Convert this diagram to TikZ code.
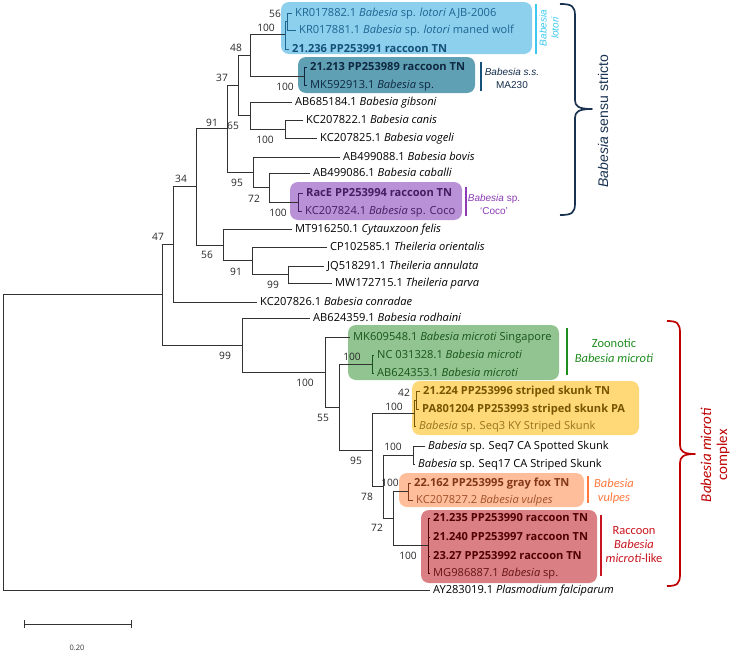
\documentclass[tikz,border=0pt]{standalone}
\usepackage{fontspec}
\setmainfont{Open Sans}
\newfontfamily\carl{Carlito}
\newfontfamily\arl{Liberation Sans}
\definecolor{treec}{RGB}{50,50,50}
\definecolor{lotbox}{RGB}{140,208,238}
\definecolor{lotbar}{RGB}{60,200,240}
\definecolor{lottxt}{RGB}{30,100,145}
\definecolor{lottxtb}{RGB}{20,80,120}
\definecolor{mabox}{RGB}{95,160,180}
\definecolor{mabar}{RGB}{20,80,120}
\definecolor{malab}{RGB}{20,45,75}
\definecolor{matxt}{RGB}{15,40,65}
\definecolor{cocobox}{RGB}{185,145,215}
\definecolor{cocobar}{RGB}{140,60,180}
\definecolor{cocotxt}{RGB}{70,30,95}
\definecolor{grnbox}{RGB}{145,196,145}
\definecolor{grnbar}{RGB}{30,140,30}
\definecolor{grntxt}{RGB}{25,85,25}
\definecolor{yelbox}{RGB}{255,217,120}
\definecolor{yeltxtb}{RGB}{120,85,0}
\definecolor{yeltxt}{RGB}{150,115,30}
\definecolor{orgbox}{RGB}{255,190,155}
\definecolor{orgbar}{RGB}{255,120,60}
\definecolor{orgtxtb}{RGB}{130,55,25}
\definecolor{orgtxt}{RGB}{160,80,40}
\definecolor{redbox}{RGB}{218,128,132}
\definecolor{redbar}{RGB}{200,20,30}
\definecolor{redtxtb}{RGB}{80,0,0}
\definecolor{redtxt}{RGB}{100,20,20}
\definecolor{ssbrace}{RGB}{25,50,80}
\definecolor{mcbrace}{RGB}{190,0,0}
\begin{document}
\begin{tikzpicture}[x=1pt,y=-1pt,
  br/.style={draw=treec,line width=0.95pt},
  leaf/.style={anchor=west,inner xsep=3pt,inner ysep=0pt,text height=0.72em,text depth=0pt,font=\fontsize{11.1}{12}\selectfont,text=black},
  bs/.style={inner sep=0pt,font=\fontsize{10.2}{11}\selectfont,text=black!85},
  clbox/.style={rounded corners=8pt},
  clbar/.style={line width=1.6pt},
  brc/.style={line width=1.7pt,line join=round}]
\useasboundingbox (0,0) rectangle (733,653);
% clade boxes
\fill[clbox,lotbox] (281,2) rectangle (532,54);
\fill[clbox,mabox] (298,57) rectangle (475,93);
\fill[clbox,cocobox] (290,182) rectangle (462,220);
\fill[clbox,grnbox] (348,325) rectangle (559,380);
\fill[clbox,yelbox] (412,381) rectangle (639,435);
\fill[clbox,orgbox] (399,473) rectangle (584,507);
\fill[clbox,redbox] (421,510) rectangle (597,583);
% internal nodes
\coordinate (root) at (3,442);
\coordinate (nN) at (162,294.5);
\coordinate (nM) at (173,244);
\coordinate (nI) at (196,186.75);
\coordinate (nC) at (227,128.5);
\coordinate (nB) at (238,85);
\coordinate (nA) at (250,55);
\coordinate (nLot) at (285,34);
\coordinate (n56) at (287,21.5);
\coordinate (nMA) at (304,76);
\coordinate (nD) at (250,115.5);
\coordinate (nE) at (285,129);
\coordinate (nF) at (253,172);
\coordinate (nG) at (269,187.5);
\coordinate (nH) at (298,202);
\coordinate (nJ) at (223,245);
\coordinate (nK) at (252,260.75);
\coordinate (nL) at (288,274.5);
\coordinate (nO) at (242,345);
\coordinate (nP) at (325,372);
\coordinate (nQ) at (339,407);
\coordinate (nR) at (372,364);
\coordinate (nS) at (372,450);
\coordinate (nT) at (414,413);
\coordinate (n42) at (416,400);
\coordinate (nU) at (383,486.75);
\coordinate (nV) at (413,455);
\coordinate (nY) at (393,518.5);
\coordinate (nW) at (408,491.5);
\coordinate (nX) at (428,545.5);
% leaves
\node[leaf,text=lottxt] (l1) at (292,13) {KR017882.1 \textit{Babesia} sp. \textit{lotori} AJB-2006};
\node[leaf,text=lottxt] (l2) at (296,30) {KR017881.1 \textit{Babesia} sp. \textit{lotori} maned wolf};
\node[leaf,text=lottxtb] (l3) at (289,49) {\bfseries 21.236 PP253991 raccoon TN};
\node[leaf,text=matxt] (l4) at (307,67) {\bfseries 21.213 PP253989 raccoon TN};
\node[leaf,text=matxt] (l5) at (307,85) {MK592913.1 \textit{Babesia} sp.};
\node[leaf] (l6) at (292,102) {AB685184.1 \textit{Babesia gibsoni}};
\node[leaf] (l7) at (303,120) {KC207822.1 \textit{Babesia canis}};
\node[leaf] (l8) at (317,138) {KC207825.1 \textit{Babesia vogeli}};
\node[leaf] (l9) at (340,157) {AB499088.1 \textit{Babesia bovis}};
\node[leaf] (l10) at (310,173) {AB499086.1 \textit{Babesia caballi}};
\node[leaf,text=cocotxt] (l11) at (303,193) {\bfseries RacE PP253994 raccoon TN};
\node[leaf,text=cocotxt] (l12) at (302,211) {KC207824.1 \textit{Babesia} sp. Coco};
\node[leaf] (l13) at (292,229) {MT916250.1 \textit{Cytauxzoon felis}};
\node[leaf] (l14) at (327,247) {CP102585.1 \textit{Theileria orientalis}};
\node[leaf] (l15) at (324,266) {JQ518291.1 \textit{Theileria annulata}};
\node[leaf] (l16) at (332,283) {MW172715.1 \textit{Theileria parva}};
\node[leaf] (l17) at (257,302) {KC207826.1 \textit{Babesia conradae}};
\node[leaf] (l18) at (310,318) {AB624359.1 \textit{Babesia rodhaini}};
\node[leaf,text=grntxt] (l19) at (350,337) {MK609548.1 \textit{Babesia microti} Singapore};
\node[leaf,text=grntxt] (l20) at (374,355) {NC 031328.1 \textit{Babesia microti}};
\node[leaf,text=grntxt] (l21) at (374,373) {AB624353.1 \textit{Babesia microti}};
\node[leaf,text=yeltxtb] (l22) at (420,391) {\bfseries 21.224 PP253996 striped skunk TN};
\node[leaf,text=yeltxtb] (l23) at (419,409) {\bfseries PA801204 PP253993 striped skunk PA};
\node[leaf,text=yeltxt] (l24) at (416,426) {\textit{Babesia} sp. Seq3 KY Striped Skunk};
\node[leaf] (l25) at (425,446) {\textit{Babesia} sp. Seq7 CA Spotted Skunk};
\node[leaf] (l26) at (415,464) {\textit{Babesia} sp. Seq17 CA Striped Skunk};
\node[leaf,text=orgtxtb] (l27) at (411,483) {\bfseries 22.162 PP253995 gray fox TN};
\node[leaf,text=orgtxt] (l28) at (413,500) {KC207827.2 \textit{Babesia vulpes}};
\node[leaf,text=redtxtb] (l29) at (430,518) {\bfseries 21.235 PP253990 raccoon TN};
\node[leaf,text=redtxtb] (l30) at (430,537) {\bfseries 21.240 PP253997 raccoon TN};
\node[leaf,text=redtxtb] (l31) at (430,556) {\bfseries 23.27 PP253992 raccoon TN};
\node[leaf,text=redtxt] (l32) at (430,573) {MG986887.1 \textit{Babesia} sp.};
\node[leaf] (l33) at (430,590) {AY283019.1 \textit{Plasmodium falciparum}};
% branches
\draw[br] (root) |- (nN);
\draw[br] (root) |- (l33.west);
\draw[br] (nN) |- (nM);
\draw[br] (nN) |- (nO);
\draw[br] (nM) |- (nI);
\draw[br] (nM) |- (l17.west);
\draw[br] (nI) |- (nC);
\draw[br] (nI) |- (nJ);
\draw[br] (nC) |- (nB);
\draw[br] (nC) |- (nF);
\draw[br] (nB) |- (nA);
\draw[br] (nB) |- (nD);
\draw[br] (nA) |- (nLot);
\draw[br] (nA) |- (nMA);
\draw[br,draw=lottxt] (nLot) |- (n56);
\draw[br,draw=lottxt] (nLot) |- (l3.west);
\draw[br,draw=lottxt] (n56) |- (l1.west);
\draw[br,draw=lottxt] (n56) |- (l2.west);
\draw[br,draw=matxt] (nMA) |- (l4.west);
\draw[br,draw=matxt] (nMA) |- (l5.west);
\draw[br] (nD) |- (l6.west);
\draw[br] (nD) |- (nE);
\draw[br] (nE) |- (l7.west);
\draw[br] (nE) |- (l8.west);
\draw[br] (nF) |- (l9.west);
\draw[br] (nF) |- (nG);
\draw[br] (nG) |- (l10.west);
\draw[br] (nG) |- (nH);
\draw[br,draw=cocotxt] (nH) |- (l11.west);
\draw[br,draw=cocotxt] (nH) |- (l12.west);
\draw[br] (nJ) |- (l13.west);
\draw[br] (nJ) |- (nK);
\draw[br] (nK) |- (l14.west);
\draw[br] (nK) |- (nL);
\draw[br] (nL) |- (l15.west);
\draw[br] (nL) |- (l16.west);
\draw[br] (nO) |- (l18.west);
\draw[br] (nO) |- (nP);
\draw[br] (nP) |- (l19.west);
\draw[br] (nP) |- (nQ);
\draw[br] (nQ) |- (nR);
\draw[br] (nQ) |- (nS);
\draw[br,draw=grntxt] (nR) |- (l20.west);
\draw[br,draw=grntxt] (nR) |- (l21.west);
\draw[br] (nS) |- (nT);
\draw[br] (nS) |- (nU);
\draw[br,draw=yeltxtb] (nT) |- (n42);
\draw[br,draw=yeltxtb] (nT) |- (l24.west);
\draw[br,draw=yeltxtb] (n42) |- (l22.west);
\draw[br,draw=yeltxtb] (n42) |- (l23.west);
\draw[br] (nU) |- (nV);
\draw[br] (nU) |- (nY);
\draw[br] (nV) |- (l25.west);
\draw[br] (nV) |- (l26.west);
\draw[br] (nY) |- (nW);
\draw[br] (nY) |- (nX);
\draw[br,draw=orgtxtb] (nW) |- (l27.west);
\draw[br,draw=orgtxtb] (nW) |- (l28.west);
\draw[br,draw=redtxtb] (nX) |- (l29.west);
\draw[br,draw=redtxtb] (nX) |- (l30.west);
\draw[br,draw=redtxtb] (nX) |- (l31.west);
\draw[br,draw=redtxtb] (nX) |- (l32.west);
% bootstrap values
\node[bs] (b56a) at (275,14) {56};
\node[bs] (bLot) at (266,28) {100};
\node[bs] (bMA) at (285,87) {100};
\node[bs] (bA) at (236,48) {48};
\node[bs] (bB) at (222,78) {37};
\node[bs] (bD) at (233,126) {65};
\node[bs] (bE) at (265,140) {100};
\node[bs] (bC) at (212,123) {91};
\node[bs] (bF) at (237,183) {95};
\node[bs] (bG) at (254,199) {72};
\node[bs] (bH) at (278,213) {100};
\node[bs] (bI) at (181,179) {34};
\node[bs] (bJ) at (207,255) {56};
\node[bs] (bK) at (236,272) {91};
\node[bs] (bL) at (273,285) {99};
\node[bs] (bM) at (158,237) {47};
\node[bs] (bO) at (225,356) {99};
\node[bs] (bP) at (305,383) {100};
\node[bs] (bQ) at (323,418) {55};
\node[bs] (bR) at (352,357) {100};
\node[bs] (b42) at (404,393) {42};
\node[bs] (bT) at (394,407) {100};
\node[bs] (bS) at (356,461) {95};
\node[bs] (bV) at (393,447) {100};
\node[bs] (bU) at (367,497) {78};
\node[bs] (bW) at (390,483) {100};
\node[bs] (bY) at (377,528) {72};
\node[bs] (bX) at (408,556) {100};
% clade bars and labels
\draw[clbar,lotbar] (536,4) -- (536,54);
\node[rotate=90,align=center,inner sep=0pt,text=lotbar,font=\arl\fontsize{10}{12}\selectfont\itshape] (lotlab) at (549,28) {Babesia\\lotori};
\draw[clbar,mabar] (481,62) -- (481,91);
\node[align=center,inner sep=0pt,text=malab,font=\arl\fontsize{10}{13}\selectfont] (malab) at (512,78) {\textit{Babesia s.s.}\\MA230};
\draw[clbar,cocobar] (466,187) -- (466,216);
\node[align=center,inner sep=0pt,text=cocobar,font=\arl\fontsize{10}{13}\selectfont] (cocolab) at (494,204) {\textit{Babesia} sp.\\‘Coco’};
\draw[clbar,grnbar] (567,328) -- (567,375);
\node[align=center,inner sep=0pt,text=grnbar,font=\carl\fontsize{12.5}{15}\selectfont] (grnlab) at (614,351) {Zoonotic\\\textit{Babesia microti}};
\draw[clbar,orgbar] (588,476) -- (588,503);
\node[align=center,inner sep=0pt,text=orgbar,font=\carl\fontsize{12.5}{14}\selectfont] (orglab) at (614,491) {\textit{Babesia}\\\textit{vulpes}};
\draw[clbar,redbar] (601,515) -- (601,576);
\node[align=center,inner sep=0pt,text=redbar,font=\carl\fontsize{12.5}{14}\selectfont] (redlab) at (634,545) {Raccoon\\\textit{Babesia}\\\textit{microti}-like};
% braces
\coordinate (ssT) at (560,4);
\coordinate (ssTip) at (592,109);
\coordinate (ssB) at (560,215);
\draw[brc,ssbrace] (ssT) .. controls (572,4) and (575,6) .. (575,16) -- (575,100)
  .. controls (575,106) and (578,109) .. (ssTip)
  .. controls (578,109) and (575,112) .. (575,118) -- (575,203)
  .. controls (575,213) and (572,215) .. (ssB);
\node[rotate=90,inner sep=0pt,text=ssbrace,font=\arl\fontsize{14}{16}\selectfont] (sslab) at (603,121) {\textit{Babesia} sensu stricto};
\coordinate (mcT) at (667,321);
\coordinate (mcTip) at (695,454);
\coordinate (mcB) at (667,586);
\draw[brc,mcbrace] (mcT) .. controls (677,321) and (680,323) .. (680,333) -- (680,445)
  .. controls (680,451) and (683,454) .. (mcTip)
  .. controls (683,454) and (680,457) .. (680,463) -- (680,574)
  .. controls (680,584) and (677,586) .. (mcB);
\node[rotate=90,align=center,inner sep=0pt,text=mcbrace,font=\carl\fontsize{15}{16}\selectfont] (mclab) at (715,455) {\textit{Babesia microti}\\complex};
% scale bar
\coordinate (sbL) at (24,624);
\coordinate (sbR) at (131,624);
\draw[br] (sbL) -- (sbR);
\draw[br] ([yshift=-4pt]sbL) -- ([yshift=4pt]sbL);
\draw[br] ([yshift=-4pt]sbR) -- ([yshift=4pt]sbR);
\node[inner sep=0pt,font=\fontsize{7.5}{9}\selectfont,text=black!80] (sblab) at (77,648) {0.20};
\end{tikzpicture}
\end{document}
